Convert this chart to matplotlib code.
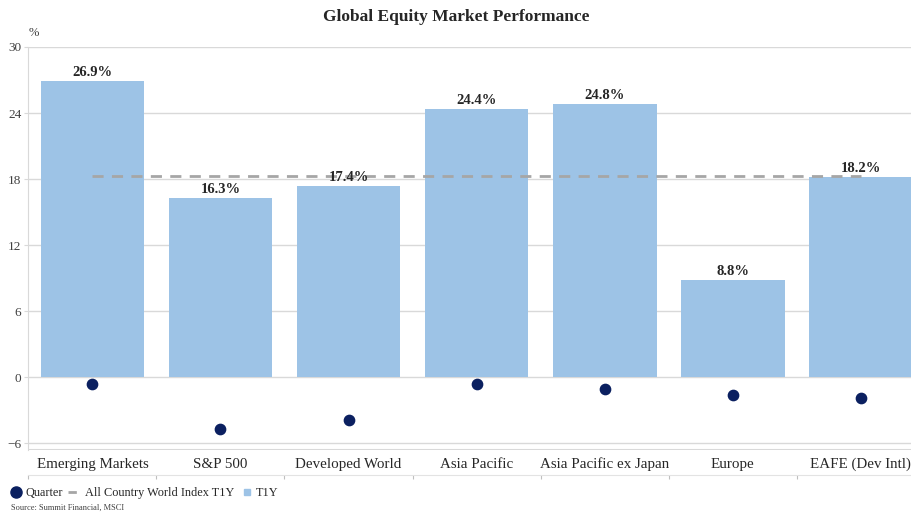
import matplotlib
matplotlib.use("Agg")
import matplotlib.pyplot as plt
import matplotlib.transforms as mtransforms
from matplotlib.lines import Line2D

# данные с графика
categories = ["Emerging Markets", "S&P 500", "Developed World", "Asia Pacific",
              "Asia Pacific ex Japan", "Europe", "EAFE (Dev Intl)"]
t1y = [26.9, 16.3, 17.4, 24.4, 24.8, 8.8, 18.2]
quarter = [-0.6, -4.7, -3.9, -0.6, -1.1, -1.6, -1.9]
acwi_t1y = 18.3
yticks = [-6, 0, 6, 12, 18, 24, 30]

bar_color = "#9DC3E6"
dot_color = "#0B2060"
line_color = "#A6A6A6"
grid_color = "#D9D9D9"
text_color = "#262626"

plt.rcParams["font.family"] = ["Liberation Serif", "DejaVu Serif"]

fig = plt.figure(figsize=(9.12, 5.17), dpi=100)
ax = fig.add_axes([0.0311, 0.1296, 0.9689, 0.7795])

x = list(range(len(categories)))
ax.bar(x, t1y, width=0.81, color=bar_color, zorder=2)
ax.plot([x[0], x[-1]], [acwi_t1y, acwi_t1y], color=line_color, lw=2,
        dashes=(4, 3), zorder=3)
ax.scatter(x, quarter, s=55, color=dot_color, zorder=4)

for xi, v in zip(x, t1y):
    ax.annotate(f"{v:.1f}%", (xi, v), xytext=(0, 1.5), textcoords="offset points",
                ha="center", va="bottom", fontsize=10.5, fontweight="bold",
                color=text_color)

ax.set_yticks(yticks)
ax.grid(axis="y", color=grid_color, lw=1, zorder=0)
ax.tick_params(axis="y", length=3, color=grid_color, labelsize=9.5,
               labelcolor="#404040", pad=2)

for s in ["top", "right"]:
    ax.spines[s].set_visible(False)
ax.spines["left"].set_color(grid_color)
ax.spines["left"].set_bounds(-6.6, 30)
ax.axhline(-6.6, color=grid_color, lw=1.5, zorder=1)

# нижняя ось под подписями категорий
ax.spines["bottom"].set_position(("outward", 18))
ax.spines["bottom"].set_color("#E3E3E3")
ax.set_xticks([i - 0.5 for i in range(len(categories) + 1)])
ax.set_xticklabels([])
ax.tick_params(axis="x", length=3, color="#BFBFBF")

ax.set_xlim(-0.5, 6.4)
ax.set_ylim(-6.6, 30)

trans = mtransforms.blended_transform_factory(ax.transData, ax.transAxes)
for xi, name in zip(x, categories):
    ax.text(xi, -0.036, name, transform=trans, ha="center", va="center",
            fontsize=10.8, color=text_color)

fig.text(0.031, 0.937, "%", fontsize=9, color="#404040", ha="left", va="center")
fig.suptitle("Global Equity Market Performance", y=0.982, fontsize=12.5,
             fontweight="bold", color=text_color)

handles = [
    Line2D([], [], marker="o", ls="none", color=dot_color, markersize=8),
    Line2D([], [], color=line_color, lw=2, dashes=(3, 2.5)),
    Line2D([], [], marker="s", ls="none", color=bar_color, markersize=5),
]
fig.legend(handles, ["Quarter", "All Country World Index T1Y", "T1Y"],
           loc="center left", bbox_to_anchor=(0.0075, 0.046), ncol=3, frameon=False,
           fontsize=8.8, handlelength=1.3, handletextpad=0.1, columnspacing=0.4,
           borderaxespad=0, borderpad=0.1, labelcolor=text_color)

fig.text(0.012, 0.017, "Source: Summit Financial, MSCI", fontsize=6,
         color="#404040", ha="left", va="center")

plt.savefig("out.png", dpi=100)
plt.close()
